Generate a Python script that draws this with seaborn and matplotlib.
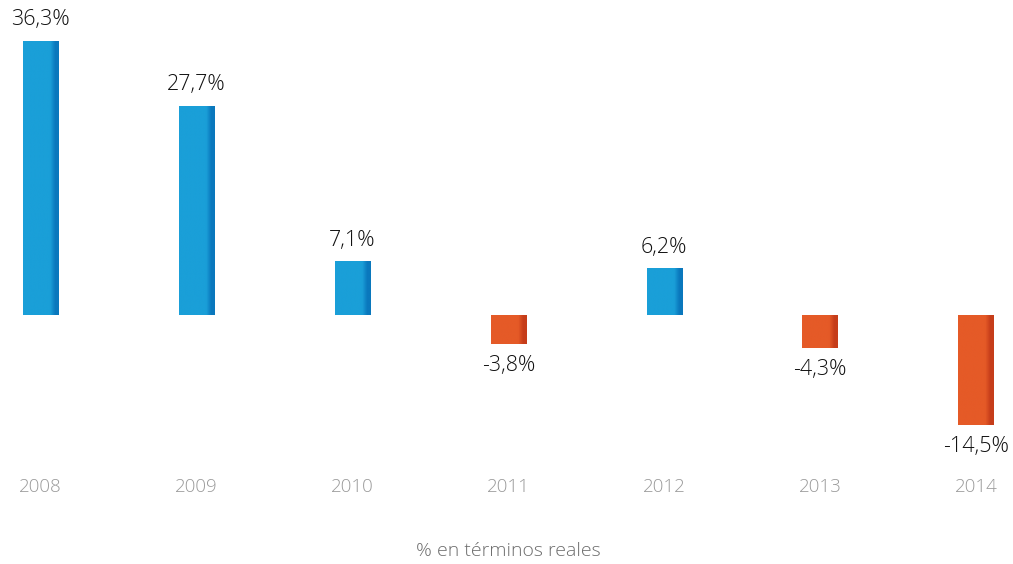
import numpy as np
import pandas as pd
import matplotlib
matplotlib.use("Agg")
import matplotlib.pyplot as plt
import seaborn as sns
from matplotlib.colors import LinearSegmentedColormap

years = ["2008", "2009", "2010", "2011", "2012", "2013", "2014"]
values = [36.3, 27.7, 7.1, -3.8, 6.2, -4.3, -14.5]

sns.set_theme(style="white")
plt.rcParams["font.family"] = ["Open Sans", "DejaVu Sans"]

df = pd.DataFrame({"year": years, "value": values})
df["sign"] = np.where(df["value"] >= 0, "pos", "neg")

blue, blue_dark = "#1a9fd8", "#0a78bd"
orange, orange_dark = "#e55a27", "#c63d1a"

fig = plt.figure(figsize=(10.13, 5.64), dpi=100)
ax = fig.add_axes([0, 0.170, 1, 0.830])

sns.barplot(data=df, x="year", y="value", hue="sign",
            palette={"pos": blue, "neg": orange}, dodge=False,
            width=0.225, legend=False, ax=ax, saturation=1)

# gradient shading toward the right edge of each bar
for patch, v in zip(sorted(ax.patches, key=lambda p: p.get_x()), values):
    x0, w = patch.get_x(), patch.get_width()
    y0, h = patch.get_y(), patch.get_height()
    if w == 0 or h == 0:
        continue
    c1, c2 = (blue, blue_dark) if v >= 0 else (orange, orange_dark)
    cmap = LinearSegmentedColormap.from_list("g", [(0, c1), (0.76, c1), (0.9, c2), (1, c2)])
    grad = np.linspace(0, 1, 200).reshape(1, -1)
    im = ax.imshow(grad, cmap=cmap, aspect="auto",
                   extent=(x0, x0 + w, min(y0, y0 + h), max(y0, y0 + h)),
                   zorder=patch.get_zorder() + 0.1)
    im.set_clip_path(patch)

for i, v in enumerate(values):
    label = f"{v:.1f}%".replace(".", ",")
    off = 15 if v >= 0 else -15.5
    ax.annotate(label, (i, v), xytext=(0, off), textcoords="offset points",
                ha="center", va="center", fontsize=15.5, color="#111111",
                fontweight="light")

ax.set_xlim(-0.26, 6.238)
ax.set_ylim(-20.26, 41.7)
ax.set_xlabel("")
ax.set_ylabel("")
ax.set_yticks([])
ax.tick_params(axis="x", length=0, pad=7, labelsize=13.5, labelcolor="#9a9a9a")
for lbl in ax.get_xticklabels():
    lbl.set_fontweight("light")
for s in ax.spines.values():
    s.set_visible(False)

fig.text(0.5015, 0.023, "% en términos reales", ha="center", va="center",
         fontsize=14, color="#6e6e6e", fontweight="light")

fig.savefig("out.png", dpi=100)
